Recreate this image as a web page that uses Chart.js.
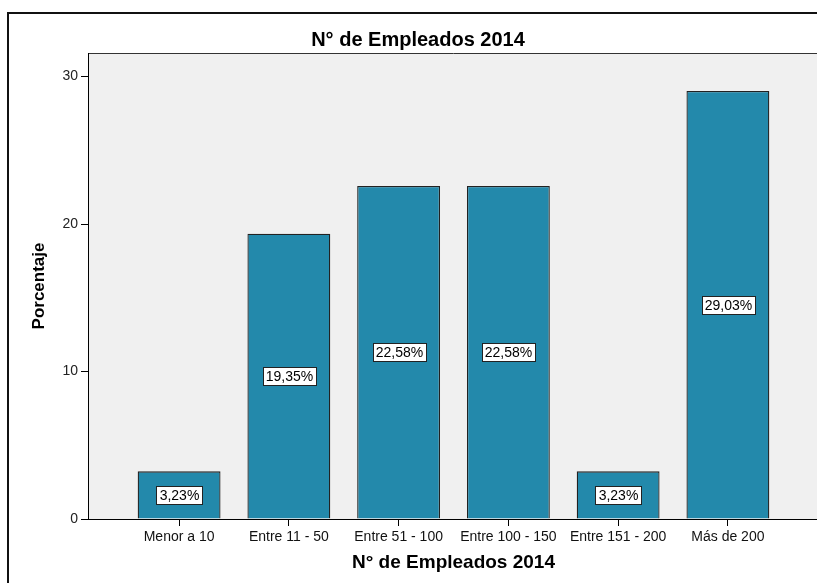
<!DOCTYPE html>
<html>
<head>
<meta charset="utf-8">
<script src="https://cdn.jsdelivr.net/npm/chart.js@4"></script>
<style>
  html, body { margin: 0; padding: 0; background: #fff; overflow: hidden; width: 817px; height: 583px; }
  #wrap { position: absolute; left: 0; top: 0; width: 830px; height: 583px; }
  #frame { position: absolute; left: 7px; top: 12px; width: 900px; height: 700px; border: 2px solid #111; box-sizing: border-box; pointer-events: none; }
</style>
</head>
<body>
<div id="frame"></div>
<div id="wrap"><canvas id="chart"></canvas></div>
<script>
'use strict';

// Data
const categories = ['Menor a 10', 'Entre 11 - 50', 'Entre 51 - 100', 'Entre 100 - 150', 'Entre 151 - 200', 'Más de 200'];
const porcentajes = [3.23, 19.35, 22.58, 22.58, 3.23, 29.03];
const yTicks = [0, 10, 20, 30];

const FONT = '"Liberation Sans", Arial, sans-serif';
const BAR = '#2389ab';

// grey plot panel + top border
const panelBg = {
  id: 'panelBg',
  beforeDraw(chart) {
    const { ctx, chartArea: a } = chart;
    ctx.save();
    ctx.fillStyle = '#f0f0f0';
    ctx.fillRect(a.left, a.top, a.right - a.left, a.bottom - a.top);
    ctx.strokeStyle = '#333';
    ctx.lineWidth = 1;
    ctx.beginPath();
    ctx.moveTo(a.left, a.top + 0.5);
    ctx.lineTo(a.right, a.top + 0.5);
    ctx.stroke();
    ctx.restore();
  }
};

// boxed value labels in the middle of each bar
const boxLabels = {
  id: 'boxLabels',
  afterDatasetsDraw(chart) {
    const { ctx } = chart;
    const meta = chart.getDatasetMeta(0);
    ctx.save();
    ctx.font = '14px ' + FONT;
    ctx.textAlign = 'center';
    ctx.textBaseline = 'middle';
    meta.data.forEach((el, i) => {
      const txt = porcentajes[i].toFixed(2).replace('.', ',') + '%';
      const w = Math.round(ctx.measureText(txt).width + 6);
      const h = 18;
      const cx = Math.round(el.x);
      const cy = Math.round((el.y + el.base) / 2);
      const x0 = Math.round(cx - w / 2);
      ctx.fillStyle = '#fff';
      ctx.fillRect(x0, cy - h / 2, w, h);
      ctx.strokeStyle = '#222';
      ctx.lineWidth = 1;
      ctx.strokeRect(x0 + 0.5, cy - h / 2 + 0.5, w, h);
      ctx.fillStyle = '#000';
      ctx.fillText(txt, cx + 0.5, cy + 1);
    });
    ctx.restore();
  }
};

new Chart(document.getElementById('chart').getContext('2d'), {
  type: 'bar',
  data: {
    datasets: [{
      label: 'Porcentaje',
      data: porcentajes.map((v, i) => ({ x: i, y: v })),
      backgroundColor: BAR,
      borderColor: '#222',
      borderWidth: 1.3,
      categoryPercentage: 1,
      barPercentage: 0.755
    }]
  },
  options: {
    responsive: true,
    maintainAspectRatio: false,
    animation: false,
    layout: { padding: { left: 17, right: 11, top: 0, bottom: 0 } },
    plugins: {
      legend: { display: false },
      tooltip: { enabled: false },
      title: {
        display: true,
        text: 'N° de Empleados 2014',
        color: '#000',
        font: { family: FONT, size: 20, weight: 'bold' },
        padding: { top: 28.5, bottom: 0.5 }
      }
    },
    scales: {
      x: {
        type: 'linear',
        offset: false,
        min: -0.83, max: 5.83,
        afterBuildTicks: s => { s.ticks = categories.map((_, i) => ({ value: i })); },
        afterFit: s => { s.height = 64; },
        ticks: {
          autoSkip: false, maxRotation: 0,
          color: '#111', font: { family: FONT, size: 14 },
          callback: v => categories[v] ?? ''
        },
        grid: { display: true, offset: false, drawOnChartArea: false, drawTicks: true, tickLength: 7, color: '#000' },
        border: { display: true, color: '#000', width: 1 },
        title: {
          display: true, text: 'N° de Empleados 2014', color: '#000',
          font: { family: FONT, size: 19, weight: 'bold' },
          padding: { top: 0, bottom: 8.6 }
        }
      },
      y: {
        min: 0, max: 31.6,
        afterBuildTicks: s => { s.ticks = yTicks.map(v => ({ value: v })); },
        afterFit: s => { s.width = 71; },
        ticks: { color: '#222', font: { family: FONT, size: 14 } },
        grid: { display: true, drawOnChartArea: false, drawTicks: true, tickLength: 7, color: '#000' },
        border: { display: true, color: '#000', width: 1 },
        title: {
          display: true, text: 'Porcentaje', color: '#000',
          font: { family: FONT, size: 17, weight: 'bold' },
          padding: { top: 12.3, bottom: 0 }
        }
      }
    }
  },
  plugins: [panelBg, boxLabels]
});
</script>
</body>
</html>
